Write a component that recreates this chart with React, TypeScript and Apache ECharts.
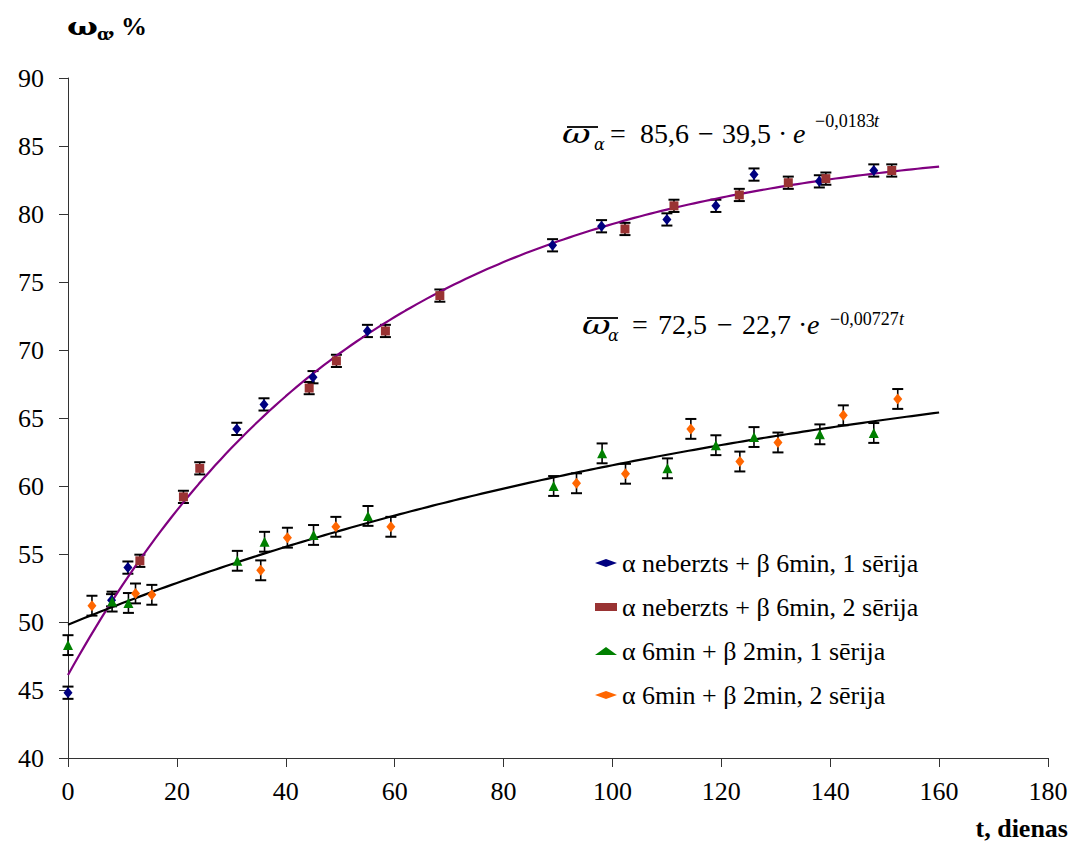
import React, { useEffect, useRef } from 'react';
import * as echarts from 'echarts';

// ---- data ----
const NAMES = [
  'α neberzts + β 6min, 1 sērija',
  'α neberzts + β 6min, 2 sērija',
  'α 6min + β 2min, 1 sērija',
  'α 6min + β 2min, 2 sērija',
];
const blueT = [0, 8, 11, 31, 36, 45, 55, 89, 98, 110, 119, 126, 138, 148];
const blueV = [44.8, 51.6, 54.0, 64.2, 66.0, 68.0, 71.4, 77.7, 79.1, 79.6, 80.6, 82.9, 82.4, 83.2];
const brownT = [13.2, 21.2, 24.2, 44.3, 49.3, 58.3, 68.3, 102.3, 111.3, 123.3, 132.3, 139.2, 151.3];
const brownV = [54.5, 59.2, 61.3, 67.2, 69.2, 71.4, 74.0, 78.9, 80.6, 81.4, 82.3, 82.6, 83.2];
const greenT = [0, 8.1, 11.1, 31.1, 36.1, 45.1, 55.1, 89.2, 98.1, 110.1, 119, 126, 138.1, 148];
const greenV = [48.3, 51.5, 51.4, 54.5, 55.9, 56.4, 57.8, 60.0, 62.4, 61.3, 63.0, 63.6, 63.8, 63.9];
const orangeT = [4.4, 12.4, 15.4, 35.4, 40.3, 49.2, 59.3, 93.4, 102.4, 114.4, 123.4, 130.4, 142.4, 152.4];
const orangeV = [51.2, 52.1, 52.0, 53.8, 56.2, 57.0, 57.0, 60.2, 60.9, 64.2, 61.8, 63.2, 65.2, 66.4];
const ERR_UPPER = 0.45; // error half-width, first group
const ERR_LOWER = 0.73; // error half-width, second group

// fitted curves printed on the chart: w = A - B * exp(-K t), drawn for t in [0, 160]
const FIT1 = { A: 85.6, B: 39.5, K: 0.0183 };
const FIT2 = { A: 72.5, B: 22.7, K: 0.00727 };
const FIT_T_END = 160;

const SERIF = 'Liberation Serif';
const GREEK = 'DejaVu Serif';

function fitLine(f: { A: number; B: number; K: number }) {
  const pts: number[][] = [];
  for (let t = 0; t <= FIT_T_END; t += 1) pts.push([t, f.A - f.B * Math.exp(-f.K * t)]);
  return pts;
}

function errorSeries(ts: number[], vs: number[], err: number) {
  return {
    type: 'custom',
    silent: true,
    z: 1,
    renderItem: (_p: any, api: any) => {
      const t = api.value(0);
      const lo = api.coord([t, api.value(1)]);
      const hi = api.coord([t, api.value(2)]);
      const hw = 5.5;
      const st = { stroke: '#000', lineWidth: 1.6 };
      const cap = { stroke: '#000', lineWidth: 2 };
      return {
        type: 'group',
        children: [
          { type: 'line', shape: { x1: lo[0], y1: lo[1], x2: hi[0], y2: hi[1] }, style: st },
          { type: 'line', shape: { x1: lo[0] - hw, y1: lo[1], x2: lo[0] + hw, y2: lo[1] }, style: cap },
          { type: 'line', shape: { x1: hi[0] - hw, y1: hi[1], x2: hi[0] + hw, y2: hi[1] }, style: cap },
        ],
      };
    },
    encode: { x: 0, y: [1, 2] },
    data: ts.map((t, i) => [t, vs[i] - err, vs[i] + err]),
  };
}

function txt(text: string, x: number, baseline: number, size: number, opts: any = {}) {
  const style: any = {
    text,
    fontSize: size,
    fontFamily: opts.family || SERIF,
    fill: '#000',
    align: opts.align || 'left',
    verticalAlign: 'middle',
  };
  if (opts.italic) style.fontStyle = 'italic';
  if (opts.bold) style.fontWeight = 'bold';
  const el: any = { type: 'text', x, y: baseline - 0.34 * size, style };
  if (opts.scaleX) el.scaleX = opts.scaleX;
  return el;
}

// omega-pi symbol drawn as a widened italic omega with a bar over it
function omegaPi(x: number, baseline: number) {
  return [
    txt('ω', x, baseline, 26, { italic: true, scaleX: 1.35, family: GREEK }),
    {
      type: 'line',
      shape: { x1: x + 5, y1: baseline - 16, x2: x + 36, y2: baseline - 16 },
      style: { stroke: '#000', lineWidth: 1.8 },
    },
  ];
}

export default function App() {
  const ref = useRef<HTMLDivElement>(null);
  useEffect(() => {
    const chart = echarts.init(ref.current!, null, { renderer: 'svg' });
    const scatter = (name: string, ts: number[], vs: number[], symbol: string, size: any, color: string) => ({
      name,
      type: 'scatter',
      symbol,
      symbolSize: size,
      itemStyle: { color, opacity: 1 },
      z: 3,
      data: ts.map((t, i) => [t, vs[i]]),
    });
    chart.setOption({
      animation: false,
      grid: { left: 68, top: 78, right: 27, bottom: 94 },
      xAxis: {
        type: 'value',
        min: 0,
        max: 180,
        interval: 20,
        splitLine: { show: false },
        axisLine: { lineStyle: { color: '#333', width: 1 } },
        axisTick: { show: true, length: 9, lineStyle: { color: '#333' } },
        axisLabel: { fontSize: 26, fontFamily: SERIF, color: '#000', margin: 20 },
      },
      yAxis: {
        type: 'value',
        min: 40,
        max: 90,
        interval: 5,
        splitLine: { show: false },
        axisLine: { show: true, lineStyle: { color: '#333', width: 1 } },
        axisTick: { show: true, length: 9, lineStyle: { color: '#333' } },
        axisLabel: { fontSize: 26, fontFamily: SERIF, color: '#000', margin: 24 },
      },
      legend: {
        orient: 'vertical',
        left: 590,
        top: 545,
        padding: 5,
        itemWidth: 22,
        itemHeight: 8,
        itemGap: 18,
        textStyle: { fontSize: 26, fontFamily: SERIF, color: '#000', lineHeight: 26 },
        data: NAMES.map((n, i) => ({ name: n, icon: ['diamond', 'rect', 'triangle', 'diamond'][i] })),
      },
      series: [
        { type: 'line', data: fitLine(FIT1), showSymbol: false, symbol: 'none', silent: true, lineStyle: { color: '#800080', width: 2.2 }, z: 2 },
        { type: 'line', data: fitLine(FIT2), showSymbol: false, symbol: 'none', silent: true, lineStyle: { color: '#000', width: 2.2 }, z: 2 },
        errorSeries(blueT, blueV, ERR_UPPER),
        errorSeries(brownT, brownV, ERR_UPPER),
        errorSeries(greenT, greenV, ERR_LOWER),
        errorSeries(orangeT, orangeV, ERR_LOWER),
        scatter(NAMES[0], blueT, blueV, 'diamond', [9, 11], '#000080'),
        scatter(NAMES[1], brownT, brownV, 'rect', 9, '#993333'),
        scatter(NAMES[2], greenT, greenV, 'triangle', 10, '#008000'),
        scatter(NAMES[3], orangeT, orangeV, 'diamond', [9, 11], '#FF6600'),
      ],
      graphic: [
        // y axis title
        txt('ω', 67, 35, 25, { bold: true, scaleX: 1.3, family: GREEK }),
        txt('α', 97, 40, 17, { bold: true, family: GREEK }),
        txt(', %', 108, 35, 26, { bold: true }),
        // x axis title
        txt('t, dienas', 1068, 837, 26, { bold: true, align: 'right' }),
        // upper equation
        ...omegaPi(562, 143),
        txt('α', 594, 150, 16, { italic: true, family: GREEK }),
        txt('=', 610, 143, 28),
        txt('85,6', 640, 143, 28),
        txt('−', 698, 143, 28),
        txt('39,5', 722, 143, 28),
        txt('·', 778, 143, 28),
        txt('e', 793, 143, 28, { italic: true }),
        txt('−0,0183', 815, 127, 18),
        txt('t', 874, 127, 18, { italic: true }),
        // lower equation
        ...omegaPi(582, 334),
        txt('α', 608, 341, 16, { italic: true, family: GREEK }),
        txt('=', 632, 334, 28),
        txt('72,5', 658, 334, 28),
        txt('−', 717, 334, 28),
        txt('22,7', 742, 334, 28),
        txt('·', 798, 334, 28),
        txt('e', 807, 334, 28, { italic: true }),
        txt('−0,00727', 830, 325, 18),
        txt('t', 899, 325, 18, { italic: true }),
      ],
    });
    return () => chart.dispose();
  }, []);
  return <div ref={ref} style={{ position: 'fixed', left: 0, top: 0, width: 1075, height: 852, background: '#fff' }} />;
}
